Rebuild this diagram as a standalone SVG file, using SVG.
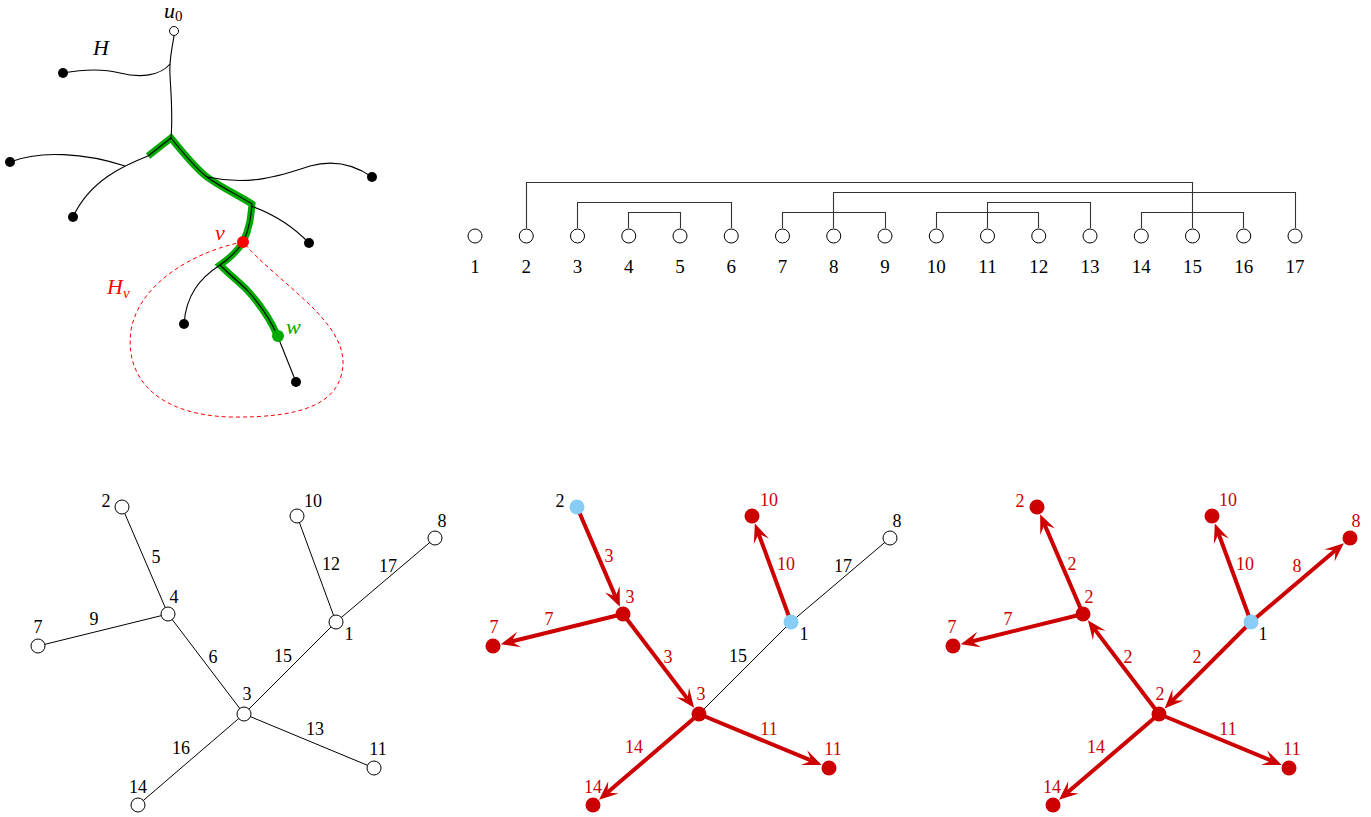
<svg xmlns="http://www.w3.org/2000/svg" width="1371" height="817" viewBox="0 0 1371 817">
<style>
.lbl{font-family:"Liberation Serif","Times New Roman",serif;font-size:18px;text-anchor:middle}
.dl{font-family:"Liberation Serif","Times New Roman",serif;font-size:19px;text-anchor:middle}
.math{font-family:"Liberation Serif","Times New Roman",serif;font-style:italic;font-size:22px}
.red{fill:#cc0000}
.thin{stroke:#000;stroke-width:1;fill:none}
.curve{stroke:#000;stroke-width:1.1;fill:none}
.br{stroke:#333;stroke-width:1.1;fill:none}
.rarr{stroke:#cc0000;stroke-width:4;fill:none;marker-end:url(#ah)}
.oc{fill:#fff;stroke:#000;stroke-width:1}
.rd{fill:#cc0000}
.bd{fill:#88cdf5}
.dot{fill:#000}
</style>
<defs>
<marker id="ah" markerUnits="userSpaceOnUse" viewBox="-9 -10 22 20" refX="0" refY="0" markerWidth="22" markerHeight="20" orient="auto">
<path d="M11,0 L-8,-8 L0,0 L-8,8 Z" fill="#cc0000"/>
</marker>
</defs>

<!-- Top-left tree H -->
<g id="treeH">
<path d="M148,156 L171,138 C185,155 195,168 207,177 C222,188 238,195 252,204 C251,215 250,228 243,242 C237,252 230,258 220,265 C230,275 240,283 247,290 C258,302 270,318 278,337" fill="none" stroke="#00aa00" stroke-width="7" stroke-linejoin="miter"/>
<path d="M148,156 L171,138 C185,155 195,168 207,177 C222,188 238,195 252,204 C251,215 250,228 243,242 C237,252 230,258 220,265 C230,275 240,283 247,290 C258,302 270,318 278,337" class="curve"/>
<path d="M174,36 C171,55 169,60 170,75 C171,95 173,115 171,138" class="curve"/>
<path d="M170,64 C160,76 140,78 120,73 C100,68 80,70 63,73" class="curve"/>
<path d="M148,156 C125,165 90,180 73,217" class="curve"/>
<path d="M10,162 C40,150 85,153 125,166" class="curve"/>
<path d="M207,177 C250,186 280,176 310,166 C335,159 355,165 372,177" class="curve"/>
<path d="M251,206 Q285,218 309,243" class="curve"/>
<path d="M220,265 C200,278 186,295 184,324" class="curve"/>
<path d="M278,337 L296,382" class="curve"/>
<path d="M243,242 C200,250 140,280 131,330 C124,380 160,415 230,417 C300,418 340,405 343,365 C345,320 280,285 243,242 Z" fill="none" stroke="#ff0000" stroke-width="1" stroke-dasharray="4,3"/>
<circle cx="174" cy="31" r="4.5" class="oc"/>
<circle cx="63" cy="73" r="5" class="dot"/>
<circle cx="10" cy="162" r="5" class="dot"/>
<circle cx="73" cy="217" r="5" class="dot"/>
<circle cx="372" cy="177" r="5" class="dot"/>
<circle cx="309" cy="243" r="5" class="dot"/>
<circle cx="184" cy="324" r="5" class="dot"/>
<circle cx="296" cy="382" r="5" class="dot"/>
<circle cx="243" cy="242" r="6" fill="#ff0000"/>
<circle cx="278" cy="336" r="6" fill="#00aa00"/>
<text x="164" y="18" class="math">u<tspan font-style="normal" font-size="15" dy="3">0</tspan></text>
<text x="93" y="55" class="math">H</text>
<text x="215" y="240" class="math" fill="#ff0000">v</text>
<text x="107" y="294" class="math" fill="#ff0000">H<tspan font-size="15" dy="4">v</tspan></text>
<text x="286" y="334" class="math" fill="#00aa00">w</text>
</g>

<!-- Dendrogram -->
<g id="dendro-connectors">
<path class="br" d="M526.5,228 V182.5 H1192.5 V228"/>
<path class="br" d="M833.5,228 V192.5 H1295.5 V228"/>
<path class="br" d="M577.5,228 V202.5 H731.5 V228"/>
<path class="br" d="M628.5,228 V212.5 H680.5 V228"/>
<path class="br" d="M782.5,228 V212.5 H885.5 V228"/>
<path class="br" d="M987.5,228 V202.5 H1090.5 V228"/>
<path class="br" d="M936.5,228 V212.5 H1038.5 V228"/>
<path class="br" d="M1141.5,228 V212.5 H1243.5 V228"/>
</g>
<g id="dendro-nodes">
<g id="d1"><circle cx="475" cy="236" r="7" class="oc"/><text x="475" y="273" class="dl">1</text></g>
<g id="d2"><circle cx="526.25" cy="236" r="7" class="oc"/><text x="526.25" y="273" class="dl">2</text></g>
<g id="d3"><circle cx="577.5" cy="236" r="7" class="oc"/><text x="577.5" y="273" class="dl">3</text></g>
<g id="d4"><circle cx="628.75" cy="236" r="7" class="oc"/><text x="628.75" y="273" class="dl">4</text></g>
<g id="d5"><circle cx="680" cy="236" r="7" class="oc"/><text x="680" y="273" class="dl">5</text></g>
<g id="d6"><circle cx="731.25" cy="236" r="7" class="oc"/><text x="731.25" y="273" class="dl">6</text></g>
<g id="d7"><circle cx="782.5" cy="236" r="7" class="oc"/><text x="782.5" y="273" class="dl">7</text></g>
<g id="d8"><circle cx="833.75" cy="236" r="7" class="oc"/><text x="833.75" y="273" class="dl">8</text></g>
<g id="d9"><circle cx="885" cy="236" r="7" class="oc"/><text x="885" y="273" class="dl">9</text></g>
<g id="d10"><circle cx="936.25" cy="236" r="7" class="oc"/><text x="936.25" y="273" class="dl">10</text></g>
<g id="d11"><circle cx="987.5" cy="236" r="7" class="oc"/><text x="987.5" y="273" class="dl">11</text></g>
<g id="d12"><circle cx="1038.75" cy="236" r="7" class="oc"/><text x="1038.75" y="273" class="dl">12</text></g>
<g id="d13"><circle cx="1090" cy="236" r="7" class="oc"/><text x="1090" y="273" class="dl">13</text></g>
<g id="d14"><circle cx="1141.25" cy="236" r="7" class="oc"/><text x="1141.25" y="273" class="dl">14</text></g>
<g id="d15"><circle cx="1192.5" cy="236" r="7" class="oc"/><text x="1192.5" y="273" class="dl">15</text></g>
<g id="d16"><circle cx="1243.75" cy="236" r="7" class="oc"/><text x="1243.75" y="273" class="dl">16</text></g>
<g id="d17"><circle cx="1295" cy="236" r="7" class="oc"/><text x="1295" y="273" class="dl">17</text></g>
</g>

<!-- Tree A -->
<g id="treeA-connectors">
<path class="thin" d="M122,507 L168,614 M168,614 L38,646 M168,614 L244,714 M244,714 L336,622 M336,622 L297,516 M336,622 L435,538 M244,714 L138,805 M244,714 L374,768"/>
</g>
<g id="treeA-nodes">
<g id="a2"><circle cx="122" cy="507" r="7" class="oc"/><text x="106" y="507" class="lbl">2</text></g>
<g id="a4"><circle cx="168" cy="614" r="7" class="oc"/><text x="174" y="603" class="lbl">4</text></g>
<g id="a7"><circle cx="38" cy="646" r="7" class="oc"/><text x="38" y="633" class="lbl">7</text></g>
<g id="a3"><circle cx="244" cy="714" r="7" class="oc"/><text x="247" y="700" class="lbl">3</text></g>
<g id="a14"><circle cx="138" cy="805" r="7" class="oc"/><text x="138" y="793" class="lbl">14</text></g>
<g id="a11"><circle cx="374" cy="768" r="7" class="oc"/><text x="378" y="755" class="lbl">11</text></g>
<g id="a1"><circle cx="336" cy="622" r="7" class="oc"/><text x="349" y="640" class="lbl">1</text></g>
<g id="a10"><circle cx="297" cy="516" r="7" class="oc"/><text x="313" y="507" class="lbl">10</text></g>
<g id="a8"><circle cx="435" cy="538" r="7" class="oc"/><text x="442" y="527" class="lbl">8</text></g>
</g>
<g id="treeA-edge-labels">
<text x="156" y="563" class="lbl">5</text>
<text x="331" y="570" class="lbl">12</text>
<text x="388" y="572" class="lbl">17</text>
<text x="94" y="625" class="lbl">9</text>
<text x="213" y="663" class="lbl">6</text>
<text x="283" y="662" class="lbl">15</text>
<text x="315" y="735" class="lbl">13</text>
<text x="181" y="754" class="lbl">16</text>
</g>

<!-- Tree B -->
<g id="treeB-connectors">
<path class="thin" d="M791,622 L890,538 M791,622 L699,714"/>
<path class="rarr" d="M577,507 L615.5,596.6"/>
<path class="rarr" d="M623,614 L511.4,641.5"/>
<path class="rarr" d="M623,614 L687.5,698.9"/>
<path class="rarr" d="M791,622 L758.6,533.8"/>
<path class="rarr" d="M699,714 L607.4,792.6"/>
<path class="rarr" d="M699,714 L811.5,760.7"/>
</g>
<g id="treeB-nodes">
<g id="b2"><circle cx="577" cy="507" r="7.5" class="bd"/><text x="560" y="507" class="lbl">2</text></g>
<g id="b4"><circle cx="623" cy="614" r="7.5" class="rd"/><text x="630" y="603" class="lbl red">3</text></g>
<g id="b7"><circle cx="493" cy="646" r="7.5" class="rd"/><text x="494" y="633" class="lbl red">7</text></g>
<g id="b3"><circle cx="699" cy="714" r="7.5" class="rd"/><text x="701" y="700" class="lbl red">3</text></g>
<g id="b14"><circle cx="593" cy="805" r="7.5" class="rd"/><text x="593" y="793" class="lbl red">14</text></g>
<g id="b11"><circle cx="829" cy="768" r="7.5" class="rd"/><text x="833" y="755" class="lbl red">11</text></g>
<g id="b1"><circle cx="791" cy="622" r="7.5" class="bd"/><text x="804" y="640" class="lbl">1</text></g>
<g id="b10"><circle cx="752" cy="516" r="7.5" class="rd"/><text x="769" y="506" class="lbl red">10</text></g>
<g id="b8"><circle cx="890" cy="538" r="7" class="oc"/><text x="897" y="527" class="lbl">8</text></g>
</g>
<g id="treeB-edge-labels">
<text x="609" y="562" class="lbl red">3</text>
<text x="549" y="625" class="lbl red">7</text>
<text x="668" y="663" class="lbl red">3</text>
<text x="786" y="570" class="lbl red">10</text>
<text x="843" y="572" class="lbl">17</text>
<text x="738" y="662" class="lbl">15</text>
<text x="634" y="753" class="lbl red">14</text>
<text x="769" y="735" class="lbl red">11</text>
</g>

<!-- Tree C -->
<g id="treeC-connectors">
<path class="rarr" d="M1083,614 L1044.5,524.4"/>
<path class="rarr" d="M1083,614 L971.4,641.5"/>
<path class="rarr" d="M1159,714 L1094.5,629.1"/>
<path class="rarr" d="M1251,622 L1218.6,533.8"/>
<path class="rarr" d="M1251,622 L1335.5,550.3"/>
<path class="rarr" d="M1251,622 L1172.4,700.6"/>
<path class="rarr" d="M1159,714 L1067.4,792.6"/>
<path class="rarr" d="M1159,714 L1271.5,760.7"/>
</g>
<g id="treeC-nodes">
<g id="c2"><circle cx="1037" cy="507" r="7.5" class="rd"/><text x="1020" y="507" class="lbl red">2</text></g>
<g id="c4"><circle cx="1083" cy="614" r="7.5" class="rd"/><text x="1089" y="603" class="lbl red">2</text></g>
<g id="c7"><circle cx="953" cy="646" r="7.5" class="rd"/><text x="952" y="633" class="lbl red">7</text></g>
<g id="c3"><circle cx="1159" cy="714" r="7.5" class="rd"/><text x="1160" y="700" class="lbl red">2</text></g>
<g id="c14"><circle cx="1053" cy="805" r="7.5" class="rd"/><text x="1052" y="793" class="lbl red">14</text></g>
<g id="c11"><circle cx="1289" cy="768" r="7.5" class="rd"/><text x="1292" y="755" class="lbl red">11</text></g>
<g id="c1"><circle cx="1251" cy="622" r="7.5" class="bd"/><text x="1263" y="640" class="lbl">1</text></g>
<g id="c10"><circle cx="1212" cy="516" r="7.5" class="rd"/><text x="1228" y="506" class="lbl red">10</text></g>
<g id="c8"><circle cx="1350" cy="538" r="7.5" class="rd"/><text x="1356" y="527" class="lbl red">8</text></g>
</g>
<g id="treeC-edge-labels">
<text x="1072" y="570" class="lbl red">2</text>
<text x="1008" y="625" class="lbl red">7</text>
<text x="1128" y="663" class="lbl red">2</text>
<text x="1245" y="570" class="lbl red">10</text>
<text x="1297" y="572" class="lbl red">8</text>
<text x="1197" y="663" class="lbl red">2</text>
<text x="1096" y="753" class="lbl red">14</text>
<text x="1228" y="735" class="lbl red">11</text>
</g>
</svg>
